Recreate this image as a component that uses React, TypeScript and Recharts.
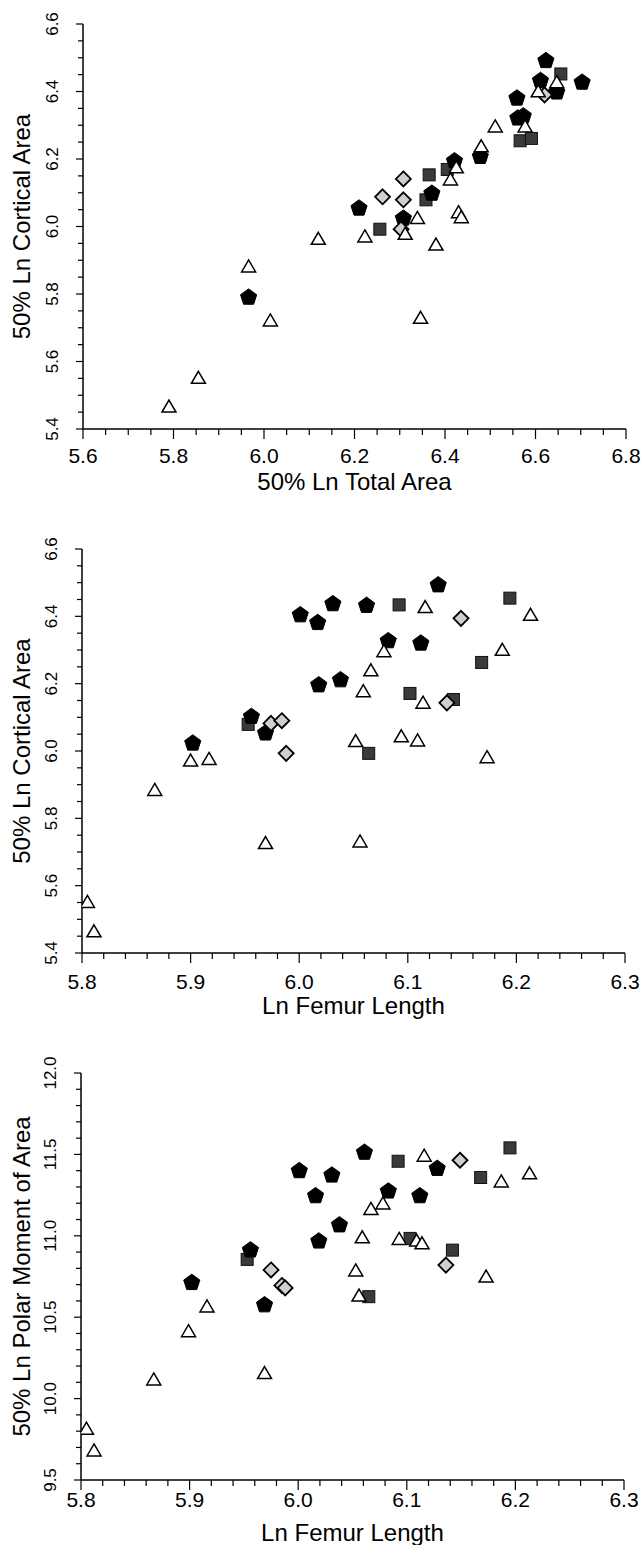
import React from "react";
import { ScatterChart, Scatter, XAxis, YAxis, Label } from "recharts";

type Pt = [number, number];

// Panel 1: 50% Ln Total Area (x) vs 50% Ln Cortical Area (y)
const areaPentagons: Pt[] = [
  [6.623, 6.491], [6.611, 6.432], [6.703, 6.427], [6.647, 6.398], [6.559, 6.38],
  [6.561, 6.321], [6.573, 6.327], [6.421, 6.194], [6.478, 6.207], [6.371, 6.098],
  [6.21, 6.054], [6.308, 6.024], [5.966, 5.79],
];
const areaSquares: Pt[] = [
  [6.656, 6.452], [6.566, 6.254], [6.591, 6.261], [6.405, 6.169], [6.365, 6.153],
  [6.358, 6.079], [6.256, 5.992],
];
const areaDiamonds: Pt[] = [
  [6.62, 6.39], [6.308, 6.141], [6.262, 6.088], [6.308, 6.079], [6.303, 5.992],
];
const areaTriangles: Pt[] = [
  [6.606, 6.402], [6.647, 6.429], [6.511, 6.298], [6.577, 6.298], [6.48, 6.239],
  [6.425, 6.177], [6.412, 6.141], [6.43, 6.044], [6.436, 6.029], [6.339, 6.027],
  [6.312, 5.98], [6.223, 5.972], [6.12, 5.965], [6.38, 5.948], [5.966, 5.883],
  [6.014, 5.723], [6.346, 5.731], [5.855, 5.553], [5.79, 5.468],
];

// Panel 2: Ln Femur Length (x) vs 50% Ln Cortical Area (y)
const cortPentagons: Pt[] = [
  [6.128, 6.493], [6.001, 6.404], [6.017, 6.381], [6.031, 6.437], [6.062, 6.432],
  [6.082, 6.327], [6.112, 6.32], [6.018, 6.196], [6.038, 6.211], [5.956, 6.102],
  [5.969, 6.053], [5.902, 6.023],
];
const cortSquares: Pt[] = [
  [6.092, 6.434], [6.194, 6.454], [6.168, 6.263], [6.102, 6.171], [6.142, 6.153],
  [5.953, 6.079], [6.064, 5.993],
];
const cortDiamonds: Pt[] = [
  [6.149, 6.394], [6.136, 6.143], [5.974, 6.082], [5.984, 6.09], [5.988, 5.993],
];
const cortTriangles: Pt[] = [
  [6.116, 6.429], [6.213, 6.406], [6.187, 6.302], [6.078, 6.298], [6.066, 6.241],
  [6.059, 6.179], [6.114, 6.145], [6.052, 6.031], [6.094, 6.045], [6.109, 6.033],
  [6.173, 5.983], [5.9, 5.973], [5.917, 5.978], [5.867, 5.886], [5.969, 5.728],
  [6.056, 5.733], [5.805, 5.553], [5.811, 5.466],
];

// Panel 3: Ln Femur Length (x) vs 50% Ln Polar Moment of Area (y)
const polarPentagons: Pt[] = [
  [6.061, 11.512], [6.001, 11.399], [6.031, 11.372], [6.128, 11.413], [6.083, 11.274],
  [6.016, 11.245], [6.112, 11.245], [6.038, 11.066], [6.019, 10.967], [5.956, 10.912],
  [5.902, 10.712], [5.969, 10.575],
];
const polarSquares: Pt[] = [
  [6.092, 11.458], [6.195, 11.54], [6.168, 11.358], [6.103, 10.984], [6.142, 10.912],
  [5.953, 10.855], [6.065, 10.626],
];
const polarDiamonds: Pt[] = [
  [6.149, 11.464], [6.136, 10.82], [5.975, 10.79], [5.985, 10.695], [5.988, 10.68],
];
const polarTriangles: Pt[] = [
  [6.116, 11.495], [6.213, 11.387], [6.187, 11.337], [6.067, 11.168], [6.078, 11.202],
  [6.059, 10.994], [6.093, 10.984], [6.109, 10.974], [6.114, 10.957], [6.053, 10.79],
  [6.173, 10.753], [6.056, 10.636], [5.916, 10.569], [5.899, 10.417], [5.969, 10.16],
  [5.867, 10.121], [5.805, 9.818], [5.812, 9.685],
];

const areaXTicks = [5.6, 5.8, 6.0, 6.2, 6.4, 6.6, 6.8];
const areaYTicks = [5.4, 5.6, 5.8, 6.0, 6.2, 6.4, 6.6];
const femurXTicks = [5.8, 5.9, 6.0, 6.1, 6.2, 6.3];
const polarYTicks = [9.5, 10.0, 10.5, 11.0, 11.5, 12.0];

const FONT = "'Liberation Sans', Arial, sans-serif";

const toRows = (pts: Pt[]) => pts.map(([x, y]) => ({ x, y }));

// majors plus evenly spaced minor ticks between them
function withMinors(majors: number[], parts: number) {
  const out: number[] = [];
  for (let i = 0; i < majors.length - 1; i++) {
    const a = majors[i], b = majors[i + 1];
    for (let k = 0; k < parts; k++) out.push(+(a + ((b - a) * k) / parts).toFixed(4));
  }
  out.push(majors[majors.length - 1]);
  return out;
}
const isMajor = (v: number, majors: number[]) => majors.some((m) => Math.abs(m - v) < 1e-6);

const Pentagon = ({ cx, cy }: any) => {
  const r = 8.5;
  const pts = [0, 1, 2, 3, 4]
    .map((k) => {
      const a = ((-90 + 72 * k) * Math.PI) / 180;
      return `${cx + r * Math.cos(a)},${cy + r * Math.sin(a)}`;
    })
    .join(" ");
  return <polygon points={pts} fill="#000" stroke="#000" strokeWidth={1} />;
};
const Square = ({ cx, cy }: any) => (
  <rect x={cx - 6} y={cy - 6} width={12} height={12} fill="#3a3a3a" stroke="#111" strokeWidth={1} />
);
const Diamond = ({ cx, cy }: any) => {
  const r = 7.5;
  return (
    <polygon
      points={`${cx},${cy - r} ${cx + r},${cy} ${cx},${cy + r} ${cx - r},${cy}`}
      fill="#cfcfcf"
      stroke="#000"
      strokeWidth={1.8}
    />
  );
};
const Triangle = ({ cx, cy }: any) => (
  <polygon
    points={`${cx},${cy - 6} ${cx + 7},${cy + 6} ${cx - 7},${cy + 6}`}
    fill="#fff"
    stroke="#000"
    strokeWidth={1.5}
  />
);

type PanelProps = {
  top: number;
  height: number;
  plotLeft: number;
  plotRight: number;
  plotTop: number;
  plotBottom: number;
  xMajors: number[];
  xParts: number;
  yMajors: number[];
  yParts: number;
  xTitle: string;
  yTitle: string;
  xLabelGap: number;
  series: { data: Pt[]; shape: any; name: string }[];
};

function Panel(p: PanelProps) {
  const xTicks = withMinors(p.xMajors, p.xParts);
  const yTicks = withMinors(p.yMajors, p.yParts);
  const axisH = 20;
  const margin = {
    top: p.plotTop - p.top,
    right: 642 - p.plotRight,
    bottom: p.height - (p.plotBottom - p.top) - axisH,
    left: 0,
  };

  const XTick = ({ x, y, payload }: any) => {
    const major = isMajor(payload.value, p.xMajors);
    return (
      <g>
        <line x1={x} x2={x} y1={y} y2={y + (major ? 10 : 6)} stroke="#000" strokeWidth={1.2} />
        {major && (
          <text x={x} y={y + p.xLabelGap} textAnchor="middle" fontSize={21} fontFamily={FONT} fill="#000">
            {payload.value.toFixed(1)}
          </text>
        )}
      </g>
    );
  };
  const YTick = ({ x, y, payload }: any) => {
    const major = isMajor(payload.value, p.yMajors);
    return (
      <g>
        <line x1={x} x2={x - (major ? 7 : 5)} y1={y} y2={y} stroke="#000" strokeWidth={1.2} />
        {major && (
          <text
            transform={`translate(${x - 31},${y}) rotate(-90)`}
            textAnchor="middle"
            dy="0.36em"
            fontSize={17}
            fontFamily={FONT}
            fill="#000"
          >
            {payload.value.toFixed(1)}
          </text>
        )}
      </g>
    );
  };

  return (
    <div style={{ position: "absolute", left: 0, top: p.top, width: 642, height: p.height }}>
      <ScatterChart width={642} height={p.height} margin={margin}>
        <XAxis
          type="number"
          dataKey="x"
          domain={[p.xMajors[0], p.xMajors[p.xMajors.length - 1]]}
          ticks={xTicks}
          interval={0}
          allowDataOverflow
          height={axisH}
          tickSize={0}
          tickMargin={0}
          tickLine={false}
          tick={<XTick />}
          axisLine={{ stroke: "#000", strokeWidth: 1.5 }}
        >
          <Label
            content={(lp: any) => {
              const vb = lp.viewBox;
              return (
                <text x={vb.x + vb.width / 2} y={vb.y + 61} textAnchor="middle" fontSize={24} fontFamily={FONT} fill="#000">
                  {p.xTitle}
                </text>
              );
            }}
          />
        </XAxis>
        <YAxis
          type="number"
          dataKey="y"
          domain={[p.yMajors[0], p.yMajors[p.yMajors.length - 1]]}
          ticks={yTicks}
          interval={0}
          allowDataOverflow
          width={p.plotLeft}
          tickSize={0}
          tickMargin={0}
          tickLine={false}
          tick={<YTick />}
          axisLine={{ stroke: "#000", strokeWidth: 1.5 }}
        >
          <Label
            content={(lp: any) => {
              const vb = lp.viewBox;
              const cy = vb.y + vb.height / 2;
              return (
                <text
                  transform={`translate(21,${cy}) rotate(-90)`}
                  textAnchor="middle"
                  dy="0.36em"
                  fontSize={24}
                  fontFamily={FONT}
                  fill="#000"
                >
                  {p.yTitle}
                </text>
              );
            }}
          />
        </YAxis>
        {p.series.map((s) => (
          <Scatter key={s.name} name={s.name} data={toRows(s.data)} shape={s.shape} isAnimationActive={false} />
        ))}
      </ScatterChart>
    </div>
  );
}

export default function App() {
  return (
    <div style={{ position: "absolute", left: 0, top: 0, width: 642, height: 1545, background: "#fff" }}>
      <Panel
        top={0}
        height={500}
        plotLeft={83}
        plotRight={626}
        plotTop={24}
        plotBottom={429}
        xMajors={areaXTicks}
        xParts={4}
        yMajors={areaYTicks}
        yParts={4}
        xTitle="50% Ln Total Area"
        yTitle="50% Ln Cortical Area"
        xLabelGap={34}
        series={[
          { name: "squares", data: areaSquares, shape: Square },
          { name: "pentagons", data: areaPentagons, shape: Pentagon },
          { name: "diamonds", data: areaDiamonds, shape: Diamond },
          { name: "triangles", data: areaTriangles, shape: Triangle },
        ]}
      />
      <Panel
        top={500}
        height={520}
        plotLeft={82}
        plotRight={625}
        plotTop={549}
        plotBottom={953}
        xMajors={femurXTicks}
        xParts={5}
        yMajors={areaYTicks}
        yParts={4}
        xTitle="Ln Femur Length"
        yTitle="50% Ln Cortical Area"
        xLabelGap={36}
        series={[
          { name: "squares", data: cortSquares, shape: Square },
          { name: "pentagons", data: cortPentagons, shape: Pentagon },
          { name: "diamonds", data: cortDiamonds, shape: Diamond },
          { name: "triangles", data: cortTriangles, shape: Triangle },
        ]}
      />
      <Panel
        top={1020}
        height={525}
        plotLeft={81}
        plotRight={624}
        plotTop={1073}
        plotBottom={1480}
        xMajors={femurXTicks}
        xParts={5}
        yMajors={polarYTicks}
        yParts={5}
        xTitle="Ln Femur Length"
        yTitle="50% Ln Polar Moment of Area"
        xLabelGap={27}
        series={[
          { name: "squares", data: polarSquares, shape: Square },
          { name: "pentagons", data: polarPentagons, shape: Pentagon },
          { name: "diamonds", data: polarDiamonds, shape: Diamond },
          { name: "triangles", data: polarTriangles, shape: Triangle },
        ]}
      />
    </div>
  );
}
